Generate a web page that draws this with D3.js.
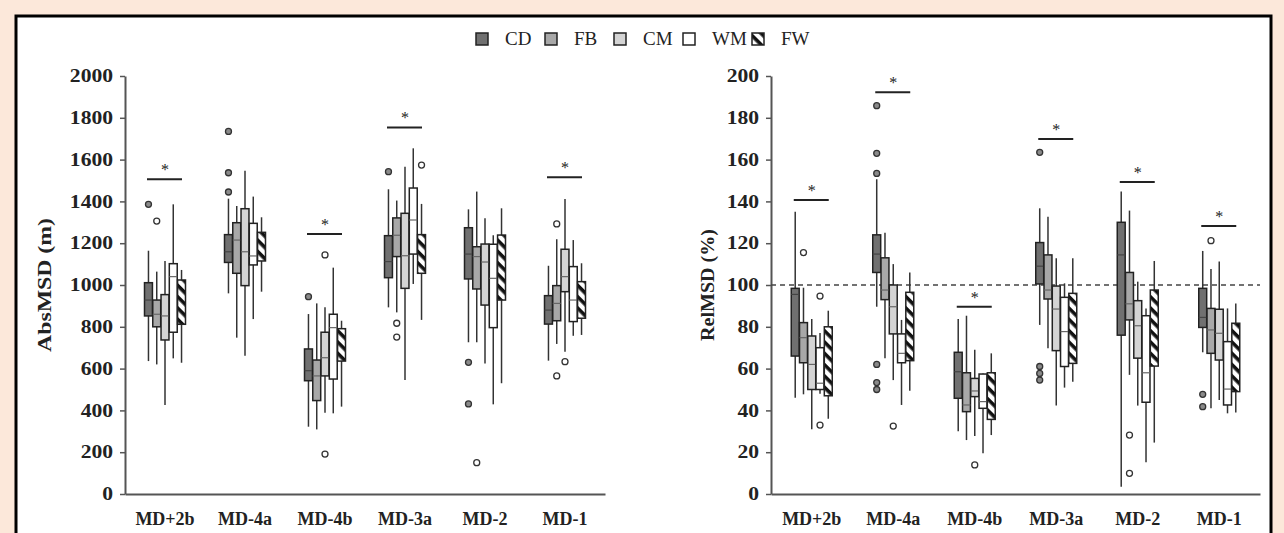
<!DOCTYPE html>
<html>
<head>
<meta charset="utf-8">
<script src="https://cdn.jsdelivr.net/npm/d3@7"></script>
<style>
  body { margin: 0; background: #fce8da; }
  svg { display: block; font-family: "Liberation Serif", "Times New Roman", serif; }
</style>
</head>
<body>
<div id="vis"></div>
<script>
const WIDTH = 1284;
const HEIGHT = 533;

// categories and groups
const categories = ["MD+2b", "MD-4a", "MD-4b", "MD-3a", "MD-2", "MD-1"];
const positions = ["CD", "FB", "CM", "WM", "FW"];

// box stats per category: [low whisker, q1, median, q3, high whisker]
const absCD = [[636, 852, 928, 1011, 1164], [960, 1108, 1159, 1241, 1413], [322, 542, 590, 694, 861], [893, 1035, 1112, 1236, 1458], [726, 1029, 1148, 1274, 1362], [638, 813, 880, 949, 1092]];
const absFB = [[620, 800, 860, 928, 1064], [748, 1056, 1215, 1298, 1378], [309, 447, 565, 641, 912], [869, 1136, 1238, 1321, 1404], [726, 981, 1136, 1183, 1447], [718, 829, 912, 997, 1219]];
const absCM = [[426, 737, 852, 954, 1115], [662, 997, 1159, 1365, 1547], [389, 565, 652, 774, 893], [545, 984, 1140, 1343, 1566], [625, 904, 1110, 1196, 1319], [681, 968, 1040, 1171, 1411]];
const absWM = [[649, 774, 1040, 1102, 1386], [837, 1096, 1139, 1295, 1423], [386, 550, 796, 860, 1083], [1005, 1148, 1311, 1464, 1654], [429, 796, 1032, 1195, 1238], [757, 825, 928, 1088, 1215]];
const absFW = [[628, 812, 900, 1024, 1072], [968, 1115, 1180, 1252, 1324], [418, 636, 720, 791, 829], [833, 1056, 1150, 1241, 1388], [530, 928, 1100, 1239, 1367], [761, 841, 920, 1016, 1104]];

const absOutliers = [
  ["MD+2b", "CD", 1386], ["MD+2b", "FB", 1306],
  ["MD-4a", "CD", 1735], ["MD-4a", "CD", 1537], ["MD-4a", "CD", 1445],
  ["MD-4b", "CD", 944], ["MD-4b", "CM", 1144], ["MD-4b", "CM", 191],
  ["MD-3a", "CD", 1542], ["MD-3a", "FB", 817], ["MD-3a", "FB", 751], ["MD-3a", "FW", 1574],
  ["MD-2", "CD", 630], ["MD-2", "CD", 431], ["MD-2", "FB", 150],
  ["MD-1", "FB", 1292], ["MD-1", "FB", 565], ["MD-1", "CM", 633]
];
const absSig = [1506, null, 1244, 1754, null, 1515];
const absTicks = [0, 200, 400, 600, 800, 1000, 1200, 1400, 1600, 1800, 2000];

const relCD = [[46, 66, 95.5, 98.4, 135], [89.6, 106, 114.8, 124, 150.6], [30, 45.8, 58.5, 67.8, 83.7], [80.9, 100.5, 109, 120.3, 136.7], [3.5, 76, 114.4, 130, 144.7], [67.8, 79.7, 84.5, 98.4, 116.3]];
const relFB = [[47.7, 62.8, 74.8, 82, 98.7], [65, 93, 97.6, 113, 125], [25.8, 39.4, 42.6, 58, 85.3], [69.7, 93.3, 97.6, 114.4, 132.7], [57, 83.3, 91, 106, 135.6], [41, 67.3, 78.5, 88.8, 107.7]];
const relCM = [[31, 50, 62, 75.6, 83.7], [54.5, 76.6, 89.6, 100, 110], [27.8, 46.6, 49.3, 55.3, 69], [42.3, 68.6, 88.5, 99.5, 112.8], [42.3, 65, 80.5, 92.5, 101.6], [45, 64.1, 76.9, 88.4, 111.2]];
const relWM = [[48, 50, 53, 70, 77], [42.6, 62.8, 67.3, 76.6, 83.3], [19.5, 41, 44.2, 57.4, 57.7], [50.9, 61, 77.7, 94.1, 100.8], [15.2, 43.9, 58, 85.3, 88.8], [38.6, 42.6, 50.2, 72.9, 88.8]];
const relFW = [[36, 47, 63, 80, 87.7], [49.4, 63.8, 80, 96.5, 106], [28.2, 35.7, 47, 58, 67.3], [53.7, 62.5, 80, 96, 112.8], [24.6, 61.2, 80, 97.6, 111.5], [39, 49, 65, 81.7, 91.2]];

const relOutliers = [
  ["MD+2b", "FB", 115.5], ["MD+2b", "WM", 94.7], ["MD+2b", "WM", 33],
  ["MD-4a", "CD", 185.8], ["MD-4a", "CD", 163], ["MD-4a", "CD", 153.4], ["MD-4a", "CD", 62], ["MD-4a", "CD", 53.3], ["MD-4a", "CD", 50], ["MD-4a", "CM", 32.5],
  ["MD-4b", "CM", 13.9],
  ["MD-3a", "CD", 163.5], ["MD-3a", "CD", 61], ["MD-3a", "CD", 57.7], ["MD-3a", "CD", 54.5],
  ["MD-2", "FB", 28.2], ["MD-2", "FB", 9.9],
  ["MD-1", "CD", 47.7], ["MD-1", "CD", 41.8], ["MD-1", "FB", 121.2]
];
const relSig = [140.7, 192.2, 89.6, 169.9, 149.3, 128.2];
const relTicks = [0, 20, 40, 60, 80, 100, 120, 140, 160, 180, 200];

const FILLS = {CD: "#707070", FB: "#a8a8a8", CM: "#d4d4d4", WM: "#ffffff", FW: "url(#hatch)"};
const AXIS_COLOR = "#555";

const svg = d3.select("#vis").append("svg")
    .attr("width", WIDTH)
    .attr("height", HEIGHT);

// hatch pattern for FW
svg.append("defs").append("pattern")
    .attr("id", "hatch")
    .attr("patternUnits", "userSpaceOnUse")
    .attr("width", 8).attr("height", 8)
    .attr("patternTransform", "rotate(45)")
  .call(p => {
    p.append("rect").attr("width", 8).attr("height", 8).attr("fill", "#fff");
    p.append("rect").attr("width", 8).attr("height", 3.6).attr("fill", "#111");
  });

// page frame
svg.append("rect").attr("width", WIDTH).attr("height", HEIGHT).attr("fill", "#fce8da");
svg.append("rect")
    .attr("x", 16).attr("y", 16)
    .attr("width", 1255).attr("height", 560)
    .attr("fill", "#fff")
    .attr("stroke", "#000")
    .attr("stroke-width", 3);

function drawPanel(opts) {
  const g = svg.append("g");
  const Y = d3.scaleLinear().domain([0, opts.max]).range([494, 76]);
  const X = d3.scaleBand().domain(categories).range([opts.x0, opts.x1]);
  const P = d3.scaleBand().domain(positions).range([-20.5, 20.5]).paddingInner(0.04);
  const stats = [opts.CD, opts.FB, opts.CM, opts.WM, opts.FW];

  // y axis
  const yAxis = g.append("g")
      .attr("transform", "translate(" + opts.x0 + ",0)")
      .call(d3.axisLeft(Y).tickValues(opts.ticks).tickFormat(d3.format("d"))
        .tickSize(5).tickSizeOuter(0).tickPadding(5));
  yAxis.select(".domain").attr("stroke", AXIS_COLOR).attr("stroke-width", 2);
  yAxis.selectAll(".tick line").attr("stroke", AXIS_COLOR).attr("stroke-width", 1.5);
  yAxis.selectAll(".tick text")
      .attr("font-size", 18).attr("font-weight", "bold")
      .attr("font-family", "Liberation Serif, serif").attr("fill", "#222")
      .attr("transform", "scale(1.2,1)");

  // x axis
  const xAxis = g.append("g")
      .attr("transform", "translate(0,494)")
      .call(d3.axisBottom(X).tickSize(0).tickSizeOuter(0).tickPadding(18));
  xAxis.select(".domain").attr("stroke", AXIS_COLOR).attr("stroke-width", 2);
  xAxis.selectAll(".tick text")
      .attr("font-size", 18).attr("font-weight", "bold")
      .attr("font-family", "Liberation Serif, serif").attr("fill", "#222");

  // axis title
  g.append("text")
      .attr("transform", "translate(" + opts.titleX + ",285) rotate(-90)")
      .attr("text-anchor", "middle")
      .attr("font-size", 18).attr("font-weight", "bold").attr("fill", "#222")
      .attr("textLength", opts.titleLen).attr("lengthAdjust", "spacingAndGlyphs")
      .text(opts.title);

  if (opts.refLine != null) {
    g.append("line")
        .attr("x1", opts.x0).attr("x2", opts.x1)
        .attr("y1", Y(opts.refLine)).attr("y2", Y(opts.refLine))
        .attr("stroke", "#444").attr("stroke-width", 1.5)
        .attr("stroke-dasharray", "5,4");
  }

  // boxes
  positions.forEach((pos, pi) => {
    const rows = stats[pi].map((d, ci) => ({cat: categories[ci], s: d}));
    const grp = g.append("g").selectAll("g").data(rows).enter().append("g")
        .attr("transform", d => "translate(" + (X(d.cat) + X.bandwidth() / 2 + P(pos)) + ",0)");
    const bw = P.bandwidth();
    grp.append("line")
        .attr("x1", bw / 2).attr("x2", bw / 2)
        .attr("y1", d => Y(d.s[0])).attr("y2", d => Y(d.s[4]))
        .attr("stroke", "#333").attr("stroke-width", 1.5);
    grp.append("rect")
        .attr("x", 0).attr("width", bw)
        .attr("y", d => Y(d.s[3]))
        .attr("height", d => Y(d.s[1]) - Y(d.s[3]))
        .attr("fill", FILLS[pos])
        .attr("stroke", "#222").attr("stroke-width", 1.5);
    if (pos !== "FW") {
      grp.append("line")
          .attr("x1", 0).attr("x2", bw)
          .attr("y1", d => Y(d.s[2])).attr("y2", d => Y(d.s[2]))
          .attr("stroke", pos === "CD" ? "#444" : "#666").attr("stroke-width", 1.2);
    }
  });

  // outliers
  g.append("g").selectAll("circle").data(opts.outliers).enter().append("circle")
      .attr("cx", d => X(d[0]) + X.bandwidth() / 2 + P(d[1]) + P.bandwidth() / 2)
      .attr("cy", d => Y(d[2]))
      .attr("r", 3)
      .attr("fill", d => d[1] === "CD" ? "#8a8a8a" : "#fff")
      .attr("stroke", "#333").attr("stroke-width", 1.3);

  // significance markers
  const sig = categories.map((c, i) => ({cat: c, v: opts.sig[i]})).filter(d => d.v != null);
  const sg = g.append("g").selectAll("g").data(sig).enter().append("g")
      .attr("transform", d => "translate(" + (X(d.cat) + X.bandwidth() / 2) + "," + Y(d.v) + ")");
  sg.append("line").attr("x1", -18).attr("x2", 17).attr("stroke", "#222").attr("stroke-width", 2);
  sg.append("text").attr("y", -4).attr("text-anchor", "middle")
      .attr("font-size", 16).attr("fill", "#222").text("*");
}

drawPanel({
  x0: 125, x1: 605, max: 2000, ticks: absTicks,
  CD: absCD, FB: absFB, CM: absCM, WM: absWM, FW: absFW,
  outliers: absOutliers, sig: absSig,
  title: "AbsMSD (m)", titleX: 51, titleLen: 134
});

drawPanel({
  x0: 771, x1: 1260, max: 200, ticks: relTicks,
  CD: relCD, FB: relFB, CM: relCM, WM: relWM, FW: relFW,
  outliers: relOutliers, sig: relSig, refLine: 100,
  title: "RelMSD (%)", titleX: 714, titleLen: 112
});

// legend
const legend = svg.append("g").selectAll("g").data(positions).enter().append("g")
    .attr("transform", (d, i) => "translate(" + (476 + i * 69) + ",33)");
legend.append("rect")
    .attr("width", 12).attr("height", 12)
    .attr("fill", d => FILLS[d])
    .attr("stroke", "#222").attr("stroke-width", 1.5);
legend.append("text")
    .attr("x", 29).attr("y", 12)
    .attr("font-size", 19).attr("fill", "#222")
    .text(d => d);
</script>
</body>
</html>
